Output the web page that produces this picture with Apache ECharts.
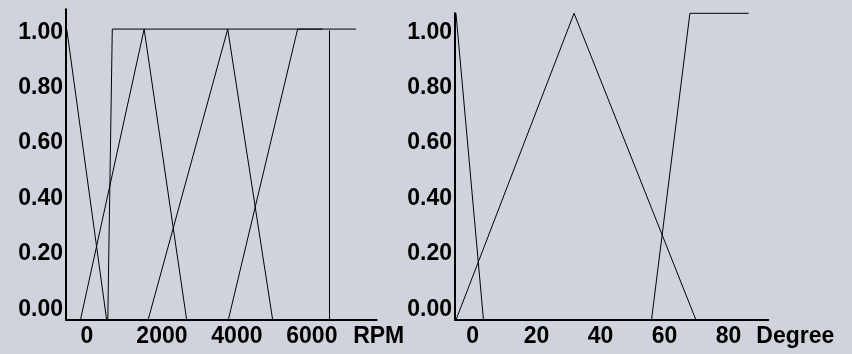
<!DOCTYPE html>
<html>
<head>
<meta charset="utf-8">
<script src="https://cdn.jsdelivr.net/npm/echarts@6/dist/echarts.min.js"></script>
<style>
html,body{margin:0;padding:0;background:#d0d3db;}
#c{width:852px;height:354px;}
</style>
</head>
<body>
<div id="c"></div>
<script>
// Tick labels
var rpmTicks = [0, 2000, 4000, 6000];
var degTicks = [0, 20, 40, 60, 80];
var yTicks = [0, 0.2, 0.4, 0.6, 0.8, 1.0];

// Left chart (RPM) membership functions: [x, membership]
var rpmSet1 = [[-540, 1], [525, 0]];
var rpmSet2 = [[555, 0], [675, 1], [7180, 1]];
var rpmSet3 = [[-175, 0], [1525, 1], [2660, 0]];
var rpmSet4 = [[1630, 0], [3755, 1], [4955, 0]];
var rpmSet5 = [[3770, 0], [5620, 1], [6290, 1]];
var rpmSet6 = [[6470, 0], [6470, 0.995]];

// Right chart (Degree) membership functions
var degSet1 = [[-5.2, 1], [3.4, 0]];
var degSet2 = [[-5.2, 0], [31.7, 1], [69.8, 0]];
var degSet3 = [[55.9, 0], [67.9, 1], [86.3, 1]];

var FONT = '"Liberation Sans", Arial, sans-serif';
var txt = {color: '#000', fontFamily: FONT, fontWeight: 'bold', fontSize: 23};

function xAxisDef(grid, min, max, ticks, name, gap) {
  return {
    type: 'value', gridIndex: grid, min: min, max: max,
    axisLine: {show: true, onZero: false, lineStyle: {color: '#000', width: 2}},
    axisTick: {show: false},
    splitLine: {show: false},
    axisLabel: Object.assign({customValues: ticks, margin: 5, hideOverlap: false,
      formatter: function (v) { return String(v); }}, txt),
    name: name, nameLocation: 'end', nameGap: gap,
    nameTextStyle: Object.assign({align: 'center', verticalAlign: 'top', padding: [5, 0, 0, 0]}, txt)
  };
}
function yLabelAxis(grid, min, max) {
  return {
    type: 'value', gridIndex: grid, position: 'left', min: min, max: max,
    axisLine: {show: true, onZero: false, lineStyle: {color: '#000', width: 2}},
    axisTick: {show: false},
    splitLine: {show: false},
    axisLabel: Object.assign({customValues: yTicks, margin: 3, hideOverlap: false,
      formatter: function (v) { return v.toFixed(2); }}, txt)
  };
}
function yDataAxis(grid, max) {
  return {type: 'value', gridIndex: grid, position: 'left', min: 0, max: max, show: false,
    splitLine: {show: false}};
}
function line(data, xi, yi) {
  return {type: 'line', data: data, xAxisIndex: xi, yAxisIndex: yi, showSymbol: false,
    symbol: 'none', silent: true, animation: false, clip: false,
    lineStyle: {color: '#000', width: 1}};
}

var chart = echarts.init(document.getElementById('c'), null, {renderer: 'canvas'});
chart.setOption({
  backgroundColor: '#d0d3db',
  animation: false,
  grid: [
    {left: 66, right: 475.3, top: 9.3, bottom: 34},
    {left: 455, right: 83.7, top: 13.3, bottom: 34}
  ],
  xAxis: [
    xAxisDef(0, -560, 7730, rpmTicks, 'RPM', 2),
    xAxisDef(1, -5.5, 92.4, degTicks, 'Degree', 27)
  ],
  yAxis: [
    yLabelAxis(0, -0.0386, 1.083),
    yDataAxis(0, 1.068),
    yLabelAxis(1, -0.0386, 1.0686),
    yDataAxis(1, 1.0)
  ],
  series: [
    line(rpmSet1, 0, 1), line(rpmSet2, 0, 1), line(rpmSet3, 0, 1),
    line(rpmSet4, 0, 1), line(rpmSet5, 0, 1), line(rpmSet6, 0, 1),
    line(degSet1, 1, 3), line(degSet2, 1, 3), line(degSet3, 1, 3)
  ]
});
</script>
</body>
</html>
